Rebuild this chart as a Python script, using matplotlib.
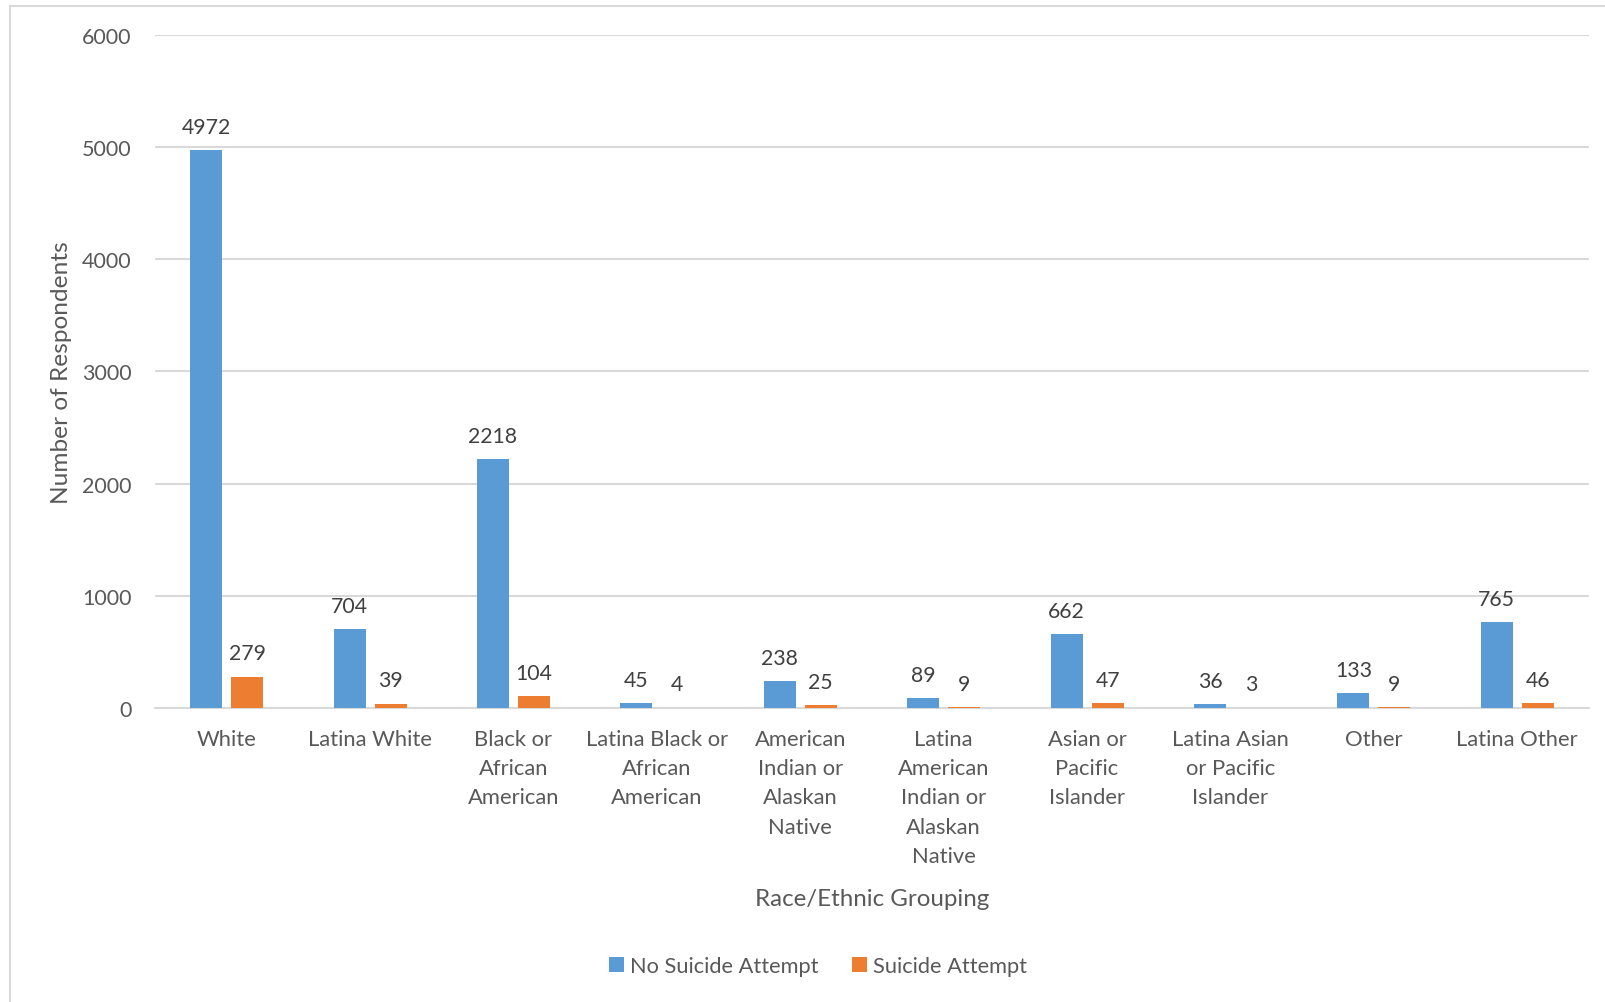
import matplotlib.pyplot as plt
import numpy as np
from matplotlib.lines import Line2D

# --- data ---
categories = [
    "White", "Latina White", "Black or\nAfrican\nAmerican",
    "Latina Black or\nAfrican\nAmerican", "American\nIndian or\nAlaskan\nNative",
    "Latina\nAmerican\nIndian or\nAlaskan\nNative", "Asian or\nPacific\nIslander",
    "Latina Asian\nor Pacific\nIslander", "Other", "Latina Other",
]
no_attempt = [4972, 704, 2218, 45, 238, 89, 662, 36, 133, 765]
attempt = [279, 39, 104, 4, 25, 9, 47, 3, 9, 46]
y_ticks = [0, 1000, 2000, 3000, 4000, 5000, 6000]

BLUE = "#5B9BD5"
ORANGE = "#ED7D31"
GRID = "#D9D9D9"
TXT = "#595959"
LBL = "#404040"

plt.rcParams['font.family'] = ['Lato', 'DejaVu Sans']

fig = plt.figure(figsize=(16.06, 10.03), dpi=100)
fig.patch.set_facecolor("white")

# outer chart frame (top and left edges visible)
fig.add_artist(Line2D([10 / 1606, 1.0], [1 - 6.5 / 1003] * 2, color=GRID, lw=1.5,
                      transform=fig.transFigure))
fig.add_artist(Line2D([10 / 1606] * 2, [0, 1 - 6.5 / 1003], color=GRID, lw=1.5,
                      transform=fig.transFigure))

ax = fig.add_axes([155 / 1606, 1 - 709 / 1003, 1434 / 1606, 673.3 / 1003])

x = np.arange(len(categories))
w = 0.223
off = 0.143
b1 = ax.bar(x - off, no_attempt, w, color=BLUE, label="No Suicide Attempt", zorder=3)
b2 = ax.bar(x + off, attempt, w, color=ORANGE, label="Suicide Attempt", zorder=3)

for bars, vals in ((b1, no_attempt), (b2, attempt)):
    for r, v in zip(bars, vals):
        ax.annotate(str(v), (r.get_x() + r.get_width() / 2, v), xytext=(0, 9.5),
                    textcoords="offset points", ha="center", va="bottom",
                    fontsize=15.3, color=LBL)

ax.set_xlim(-0.5, len(categories) - 0.5)
ax.set_ylim(0, 6000)
ax.set_yticks(y_ticks)
ax.set_xticks(x)
ax.set_xticklabels(categories, fontsize=15.8, color=TXT, linespacing=1.58)
ax.tick_params(axis="y", length=0, pad=17, labelsize=15.5, labelcolor=TXT)
ax.tick_params(axis="x", length=0, pad=15)
ax.grid(axis="y", color=GRID, lw=1.5, zorder=0)
for s in ("top", "right", "left"):
    ax.spines[s].set_visible(False)
ax.spines["bottom"].set_color(GRID)
ax.spines["bottom"].set_linewidth(1.5)

ax.set_ylabel("Number of Respondents", fontsize=17.6, color=TXT, labelpad=7)
ax.set_xlabel("Race/Ethnic Grouping", fontsize=17.4, color=TXT, labelpad=16)

fig.legend(handles=[b1, b2], loc="center", bbox_to_anchor=(818 / 1606, 1 - 967 / 1003),
           ncol=2, frameon=False, fontsize=15.7, labelcolor=TXT,
           handlelength=0.7, handleheight=0.7, handletextpad=0.25, columnspacing=1.55)

fig.savefig("out.png", dpi=100, facecolor="white")
